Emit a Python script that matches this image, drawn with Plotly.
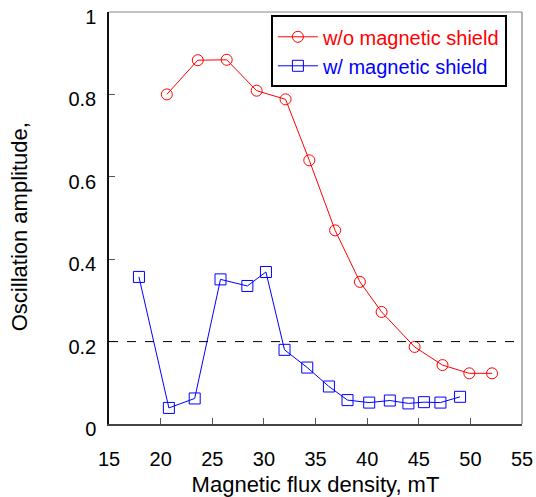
import plotly.graph_objects as go

# Oscillation amplitude vs. magnetic flux density
field_no_shield = [20.6, 23.6, 26.4, 29.3, 32.1, 34.4, 36.9, 39.3, 41.4, 44.6, 47.3, 49.9, 52.1]
amp_no_shield = [0.800, 0.883, 0.884, 0.809, 0.788, 0.640, 0.470, 0.345, 0.272, 0.187, 0.143, 0.123, 0.123]

field_shield = [17.9, 20.8, 23.3, 25.8, 28.4, 30.2, 32.0, 34.2, 36.3, 38.1, 40.2, 42.2, 44.0, 45.5, 47.1, 49.0]
amp_shield = [0.357, 0.039, 0.062, 0.351, 0.335, 0.369, 0.180, 0.137, 0.091, 0.058, 0.052, 0.057, 0.050, 0.053, 0.052, 0.066]

threshold = 0.2

x_ticks = [15, 20, 25, 30, 35, 40, 45, 50, 55]
y_ticks = [0, 0.2, 0.4, 0.6, 0.8, 1]
y_tick_labels = ["0", "0.2", "0.4", "0.6", "0.8", "1"]

RED = "#ff0000"
BLUE = "#0000ff"
FONT = "Liberation Sans, Arial, sans-serif"

fig = go.Figure()

fig.add_trace(go.Scatter(
    x=field_no_shield, y=amp_no_shield, mode="lines+markers",
    name=f"<span style='color:{RED}'>w/o magnetic shield</span>",
    line=dict(color=RED, width=1),
    marker=dict(symbol="circle-open", size=11, color=RED, line=dict(width=1, color=RED)),
))
fig.add_trace(go.Scatter(
    x=field_shield, y=amp_shield, mode="lines+markers",
    name=f"<span style='color:{BLUE}'>w/ magnetic shield</span>",
    line=dict(color=BLUE, width=1),
    marker=dict(symbol="square-open", size=11, color=BLUE, line=dict(width=1, color=BLUE)),
))

# dashed reference level
fig.add_shape(type="line", xref="x", yref="y", x0=x_ticks[0], x1=x_ticks[-1],
              y0=threshold, y1=threshold, line=dict(color="black", width=1, dash="dash"))

# light top and right frame edges
fig.add_shape(type="line", xref="paper", yref="paper", x0=0, x1=1, y0=1, y1=1,
              line=dict(color="#888888", width=1))
fig.add_shape(type="line", xref="paper", yref="paper", x0=1, x1=1, y0=0, y1=1,
              line=dict(color="#666666", width=1))

fig.add_annotation(text="Oscillation amplitude,", textangle=-90, xref="paper", yref="paper",
                   x=-0.2165, y=0.479, showarrow=False, xanchor="center", yanchor="middle",
                   font=dict(family=FONT, size=22, color="black"))

fig.update_layout(
    width=536, height=497,
    margin=dict(l=109, r=14, t=12, b=73),
    paper_bgcolor="white", plot_bgcolor="white",
    font=dict(family=FONT, color="black"),
    showlegend=True,
    legend=dict(x=0.392, y=0.992, xanchor="left", yanchor="top",
                bgcolor="white", bordercolor="black", borderwidth=2,
                font=dict(family=FONT, size=20), itemwidth=40, tracegroupgap=0),
    xaxis=dict(range=[15, 55], tickvals=x_ticks, ticks="inside", ticklen=6, tickcolor="#555555",
               showline=True, linecolor="#444444", linewidth=1.5, showgrid=False, zeroline=False,
               tickfont=dict(family=FONT, size=20), ticklabelstandoff=16, automargin=False,
               title=dict(text="Magnetic flux density, mT", font=dict(family=FONT, size=22), standoff=14)),
    yaxis=dict(range=[0, 1], tickvals=y_ticks, ticktext=y_tick_labels, ticks="inside", ticklen=6,
               tickcolor="#555555", showline=True, linecolor="#111111", linewidth=1.5,
               showgrid=False, zeroline=False, tickfont=dict(family=FONT, size=20),
               ticklabelshift=5, ticklabelstandoff=7, automargin=False),
)

fig.write_html("out.html")
